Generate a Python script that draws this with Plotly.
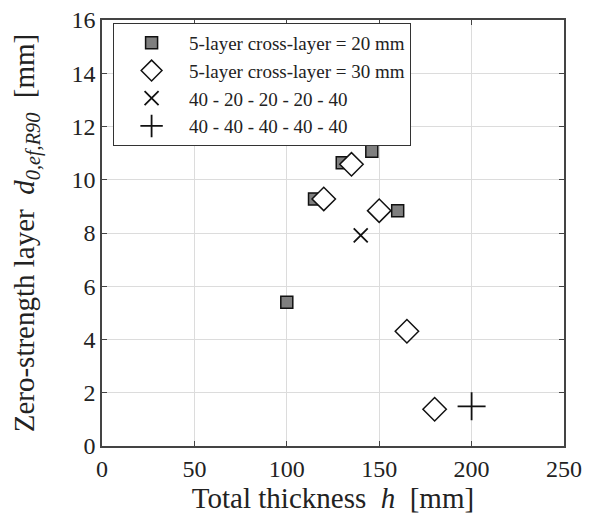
import plotly.graph_objects as go

sq_x = [100, 115, 130, 146, 160]
sq_y = [5.40, 9.28, 10.64, 11.07, 8.84]
di_x = [120, 135, 150, 165, 180]
di_y = [9.28, 10.58, 8.84, 4.31, 1.38]
x_x = [140]
x_y = [7.91]
p_x = [200]
p_y = [1.49]

names = ["5-layer cross-layer = 20 mm", "5-layer cross-layer = 30 mm",
         "40 - 20 - 20 - 20 - 40", "40 - 40 - 40 - 40 - 40"]

fig = go.Figure()
fig.add_trace(go.Scatter(x=sq_x, y=sq_y, mode="markers", name=names[0],
                         marker=dict(symbol="square", size=12, color="#7f7f7f",
                                     line=dict(color="#111", width=1.5))))
fig.add_trace(go.Scatter(x=di_x, y=di_y, mode="markers", name=names[1],
                         marker=dict(symbol="diamond", size=18, color="white",
                                     line=dict(color="#111", width=1.5))))
fig.add_trace(go.Scatter(x=x_x, y=x_y, mode="markers", name=names[2],
                         marker=dict(symbol="x-thin", size=14, color="#111",
                                     line=dict(color="#111", width=1.8))))
fig.add_trace(go.Scatter(x=p_x, y=p_y, mode="markers", name=names[3],
                         marker=dict(symbol="cross-thin", size=20, color="#111",
                                     line=dict(color="#111", width=1.8))))

font = "Liberation Serif, Times New Roman, serif"
axis_common = dict(showgrid=True, gridcolor="#dcdcdc", gridwidth=1,
                   showline=True, linecolor="#444", linewidth=1.5, mirror="ticks",
                   ticks="inside", ticklen=5, tickcolor="#444", zeroline=False,
                   automargin=False, ticklabeloverflow="allow",
                   tickfont=dict(family=font, size=24, color="#222"))

fig.update_layout(
    width=583, height=516,
    margin=dict(l=94, r=27, t=12, b=78),
    paper_bgcolor="white", plot_bgcolor="white",
    font=dict(family=font, color="#222"),
    xaxis=dict(range=[0, 250], dtick=50,
               title=dict(text="Total thickness  <i>h</i>  [mm]", font=dict(family=font, size=29), standoff=0),
               **axis_common),
    yaxis=dict(range=[0, 16], dtick=2,
               title=dict(text="Zero-strength layer  <i>d</i><sub><i>0,ef,R90</i></sub>  [mm]",
                          font=dict(family=font, size=29), standoff=28),
               **axis_common),
    legend=dict(x=0.024, y=0.993, xanchor="left", yanchor="top",
                bgcolor="white", bordercolor="#333", borderwidth=1,
                font=dict(family=font, size=19, color="#222"),
                itemwidth=65, tracegroupgap=0),
    showlegend=True,
)

fig.write_html("out.html")
